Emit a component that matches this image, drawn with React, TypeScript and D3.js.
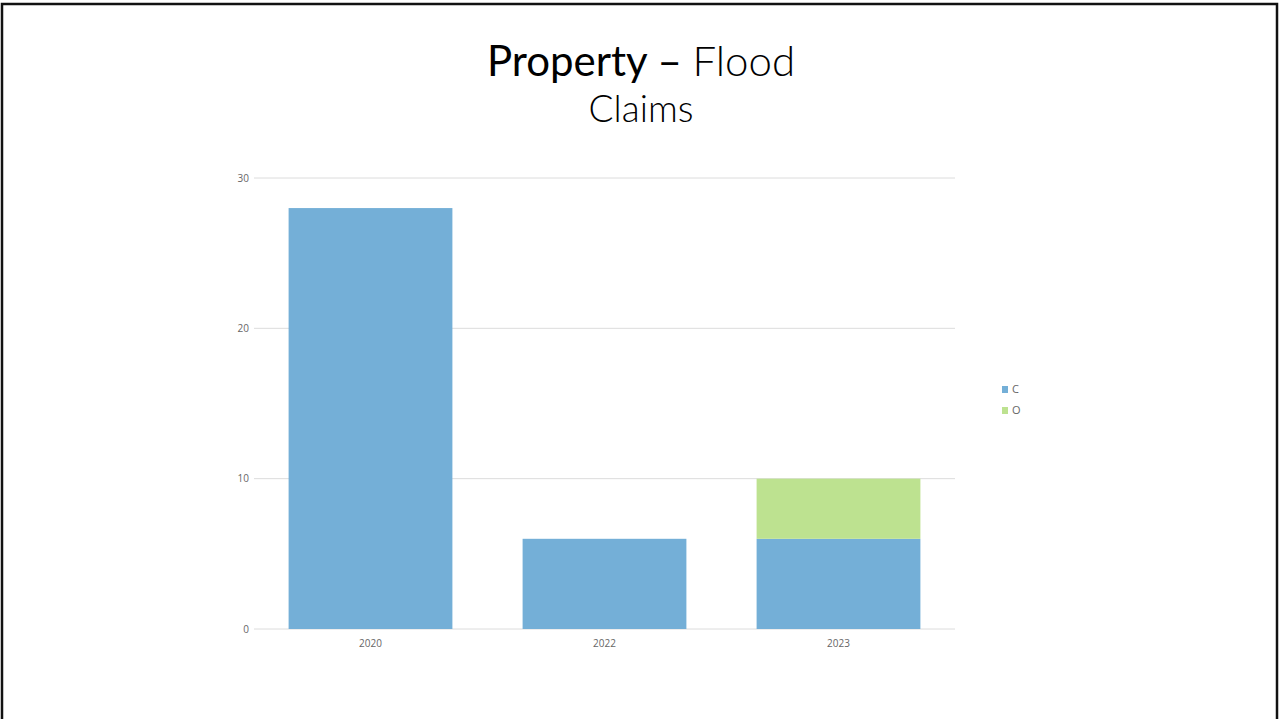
import React from "react";
import * as d3 from "d3";

const categories = ["2020", "2022", "2023"];
const seriesNames = ["C", "O"];
const valuesC = [28, 6, 6];
const valuesO = [0, 0, 4];
const yTicks = [0, 10, 20, 30];
const colors = ["#74afd7", "#bde290"];

export default function App() {
  const W = 1279, H = 719;
  const x = d3.scaleBand().domain(categories).range([253.5, 955.5]).paddingInner(0.3).paddingOuter(0.15);
  const y = d3.scaleLinear().domain([0, 30]).range([629, 178]);
  const rows = categories.map((c, i) => ({ cat: c, C: valuesC[i], O: valuesO[i] }));
  const stacked = d3.stack<any>().keys(seriesNames)(rows);
  return (
    <div style={{ position: "fixed", left: 0, top: 0 }}>
      <svg width={W} height={H} style={{ display: "block", background: "#fff" }}>
        <rect x={2} y={4} width={1275} height={730} fill="none" stroke="#111" strokeWidth={2.5} />
        <text x={641} y={76} textAnchor="middle" fontFamily="Lato, sans-serif" fontSize={42} fill="#000">
          <tspan fontWeight={400}>Property – </tspan>
          <tspan fontWeight={300}>Flood</tspan>
        </text>
        <text x={641} y={122} textAnchor="middle" fontFamily="Lato, sans-serif" fontWeight={300} fontSize={37} fill="#000">Claims</text>
        {yTicks.map((t) => (
          <g key={t}>
            <line x1={254} x2={955} y1={y(t)} y2={y(t)} stroke="#dcdcdc" strokeWidth={1} />
            <text x={249} y={y(t) + 3.5} textAnchor="end" fontFamily="'Open Sans', sans-serif" fontSize={10} fill="#666">{t}</text>
          </g>
        ))}
        {stacked.map((s, si) => (
          <g key={s.key} fill={colors[si]}>
            {s.map((d: any, i: number) => (
              d[1] - d[0] > 0 ? (
                <rect key={i} x={x(categories[i])} width={x.bandwidth()} y={y(d[1])} height={y(d[0]) - y(d[1])} />
              ) : null
            ))}
          </g>
        ))}
        {categories.map((c) => (
          <text key={c} x={(x(c) as number) + x.bandwidth() / 2} y={647} textAnchor="middle" fontFamily="'Open Sans', sans-serif" fontSize={10} fill="#666">{c}</text>
        ))}
        {seriesNames.map((n, i) => (
          <g key={n}>
            <rect x={1002} y={386 + i * 21} width={6} height={7} fill={colors[i]} />
            <text x={1012} y={393 + i * 21} fontFamily="'Open Sans', sans-serif" fontSize={11} fill="#666">{n}</text>
          </g>
        ))}
      </svg>
    </div>
  );
}
